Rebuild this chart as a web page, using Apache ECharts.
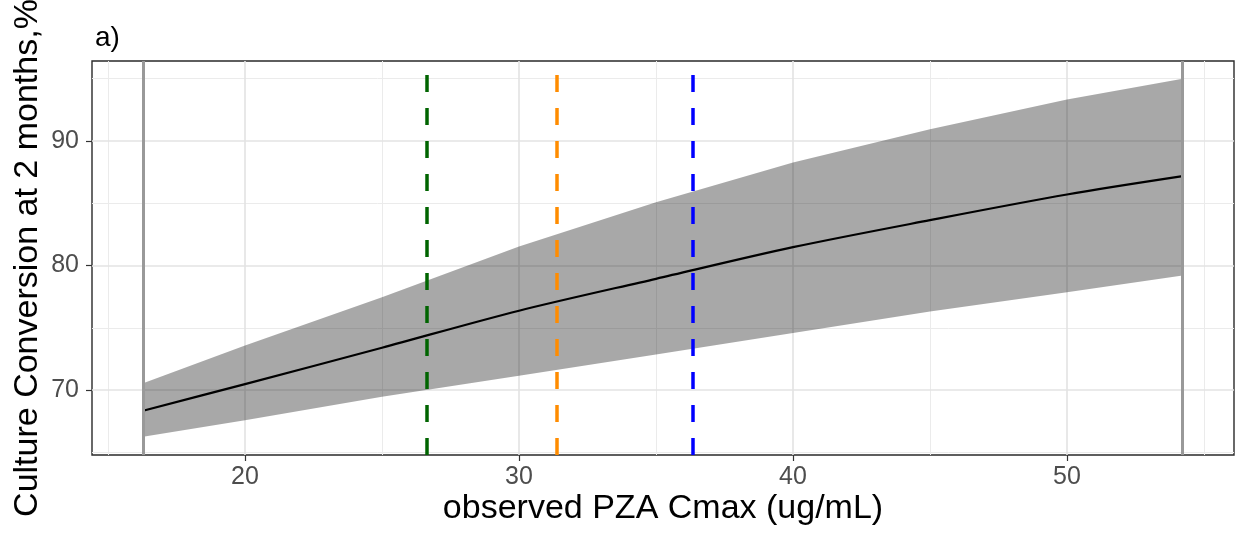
<!DOCTYPE html>
<html>
<head>
<meta charset="utf-8">
<title>Culture conversion vs PZA Cmax</title>
<script src="https://cdn.jsdelivr.net/npm/echarts@6/dist/echarts.min.js"></script>
<style>
  html, body { margin: 0; padding: 0; background: #fff; }
  #chart { width: 1238px; height: 536px; }
</style>
</head>
<body>
<div id="chart"></div>
<script>
// 模型拟合曲线与置信带
const cmaxValues = [16.28, 20, 25, 30, 35, 40, 45, 50, 54.22];
const fitValues = [68.34, 70.48, 73.4, 76.37, 78.93, 81.47, 83.64, 85.7, 87.17];
const lowerValues = [66.26, 67.58, 69.46, 71.15, 72.85, 74.58, 76.3, 77.86, 79.2];
const upperValues = [70.54, 73.58, 77.45, 81.52, 85.08, 88.26, 90.94, 93.32, 95.0];

// 观测范围（灰色竖线）和三条参考竖线
const rangeLines = [16.28, 54.22];
const targetLines = [26.63, 31.39, 36.33];
const targetColors = ['#006400', '#ff8c00', '#0000ff'];

// 刻度
const xTicks = [20, 30, 40, 50];
const xMinorTicks = [15, 25, 35, 45, 55];
const yTicks = [70, 80, 90];
const yMinorTicks = [65, 75, 85, 95];

const FONT = '"Liberation Sans", Arial, Helvetica, sans-serif';

const chart = echarts.init(document.getElementById('chart'));

const gridLines = [];
xMinorTicks.forEach(v => gridLines.push({ xAxis: v, lineStyle: { color: '#ebebeb', width: 1, type: 'solid' } }));
yMinorTicks.forEach(v => gridLines.push({ yAxis: v, lineStyle: { color: '#ebebeb', width: 1, type: 'solid' } }));
xTicks.forEach(v => gridLines.push({ xAxis: v, lineStyle: { color: '#e3e3e3', width: 1.6, type: 'solid' } }));
yTicks.forEach(v => gridLines.push({ yAxis: v, lineStyle: { color: '#e3e3e3', width: 1.6, type: 'solid' } }));

const refLines = [];
rangeLines.forEach(v => refLines.push({ xAxis: v, lineStyle: { color: '#999999', width: 3, type: 'solid' } }));
targetLines.forEach((v, i) => refLines.push({ xAxis: v, lineStyle: { color: targetColors[i], width: 3.5, type: [17, 16] } }));

const bandData = cmaxValues.map((x, i) => [x, lowerValues[i], upperValues[i]]);
const fitData = cmaxValues.map((x, i) => [x, fitValues[i]]);

// 置信带：整条多边形一次画完，避免分段叠加产生接缝
function renderBand(params, api) {
  if (params.dataIndex !== 0) return null;
  const top = bandData.map(d => api.coord([d[0], d[2]]));
  const bottom = bandData.map(d => api.coord([d[0], d[1]])).reverse();
  return {
    type: 'polygon',
    shape: { points: top.concat(bottom) },
    style: { fill: 'rgba(0, 0, 0, 0.34)' },
    silent: true
  };
}

const option = {
  animation: false,
  backgroundColor: '#ffffff',
  textStyle: { fontFamily: FONT },
  title: {
    text: 'a)',
    left: 90,
    top: 19,
    textStyle: { fontSize: 28, fontWeight: 'normal', color: '#000', fontFamily: FONT }
  },
  grid: {
    left: 92,
    right: 4,
    top: 61,
    bottom: 81,
    outerBoundsMode: 'none',
    containLabel: false,
    show: true,
    borderColor: '#2a2a2a',
    borderWidth: 1.4,
    backgroundColor: 'transparent'
  },
  xAxis: {
    type: 'value',
    min: 14.416,
    max: 56.095,
    name: 'observed PZA Cmax (ug/mL)',
    nameLocation: 'middle',
    nameGap: 37,
    nameMoveOverlap: false,
    nameTextStyle: { fontSize: 34, color: '#000', fontFamily: FONT },
    axisLine: { show: false },
    axisTick: { show: true, length: 6, customValues: xTicks, lineStyle: { color: '#333', width: 1.2 } },
    axisLabel: { customValues: xTicks, color: '#4d4d4d', fontSize: 25, margin: 10, fontFamily: FONT },
    splitLine: { show: false }
  },
  yAxis: {
    type: 'value',
    min: 64.785,
    max: 96.418,
    name: 'Culture Conversion at 2 months,%',
    nameLocation: 'middle',
    nameRotate: 90,
    nameGap: 47,
    nameMoveOverlap: false,
    nameTextStyle: { fontSize: 34, color: '#000', fontFamily: FONT },
    axisLine: { show: false },
    axisTick: { show: true, length: 6, customValues: yTicks, lineStyle: { color: '#333', width: 1.2 } },
    axisLabel: { customValues: yTicks, color: '#4d4d4d', fontSize: 25, margin: 13, fontFamily: FONT },
    splitLine: { show: false }
  },
  series: [
    {
      name: 'grid',
      type: 'line',
      data: [],
      z: 0,
      silent: true,
      markLine: {
        z: 0,
        silent: true,
        symbol: ['none', 'none'],
        label: { show: false },
        emphasis: { disabled: true },
        data: gridLines
      }
    },
    {
      name: 'band',
      type: 'custom',
      data: bandData,
      renderItem: renderBand,
      encode: { x: 0, y: [1, 2] },
      silent: true,
      clip: true,
      z: 2
    },
    {
      name: 'fit',
      type: 'line',
      data: fitData,
      symbol: 'none',
      smooth: 0.3,
      lineStyle: { color: '#000', width: 2.2 },
      z: 4
    },
    {
      name: 'ref',
      type: 'line',
      data: [],
      z: 6,
      silent: true,
      markLine: {
        z: 6,
        silent: true,
        symbol: ['none', 'none'],
        label: { show: false },
        emphasis: { disabled: true },
        data: refLines
      }
    }
  ]
};

chart.setOption(option);
</script>
</body>
</html>
